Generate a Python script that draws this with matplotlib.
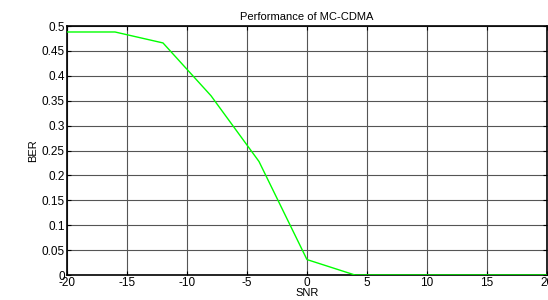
import matplotlib
matplotlib.use("Agg")
import matplotlib.pyplot as plt

# BER vs SNR for MC-CDMA
snr = [-20, -16, -12, -8, -4, 0, 4, 8, 12, 16, 20]
ber = [0.488, 0.488, 0.466, 0.36, 0.228, 0.031, 0.0, 0.0, 0.0, 0.0, 0.0]

x_ticks = [-20, -15, -10, -5, 0, 5, 10, 15, 20]
y_ticks = [0, 0.05, 0.1, 0.15, 0.2, 0.25, 0.3, 0.35, 0.4, 0.45, 0.5]

plt.rcParams["font.family"] = ["Liberation Sans", "DejaVu Sans"]
plt.rcParams["axes.unicode_minus"] = False

fig = plt.figure(figsize=(5.48, 3.0), dpi=100)
ax = fig.add_axes([0.1223, 0.0833, 0.8757, 0.83])

ax.plot(snr, ber, color="#00ff00", linewidth=1.0, zorder=3)

ax.set_xlim(-20, 20)
ax.set_ylim(0, 0.5)
ax.set_xticks(x_ticks)
ax.set_yticks(y_ticks)
ax.set_yticklabels([f"{v:g}" for v in y_ticks])
ax.tick_params(axis="both", direction="in", top=True, right=True,
               labelsize=8.5, length=3, width=0.8, pad=1.5)
ax.grid(True, color="#555555", linewidth=0.8, linestyle="-")
for s in ax.spines.values():
    s.set_linewidth(1.2)

ax.set_xlabel("SNR", fontsize=8, labelpad=-1)
ax.set_ylabel("BER", fontsize=8, labelpad=3)
ax.set_title("Performance of MC-CDMA", fontsize=8, pad=4)

fig.savefig("out.png", dpi=100)
